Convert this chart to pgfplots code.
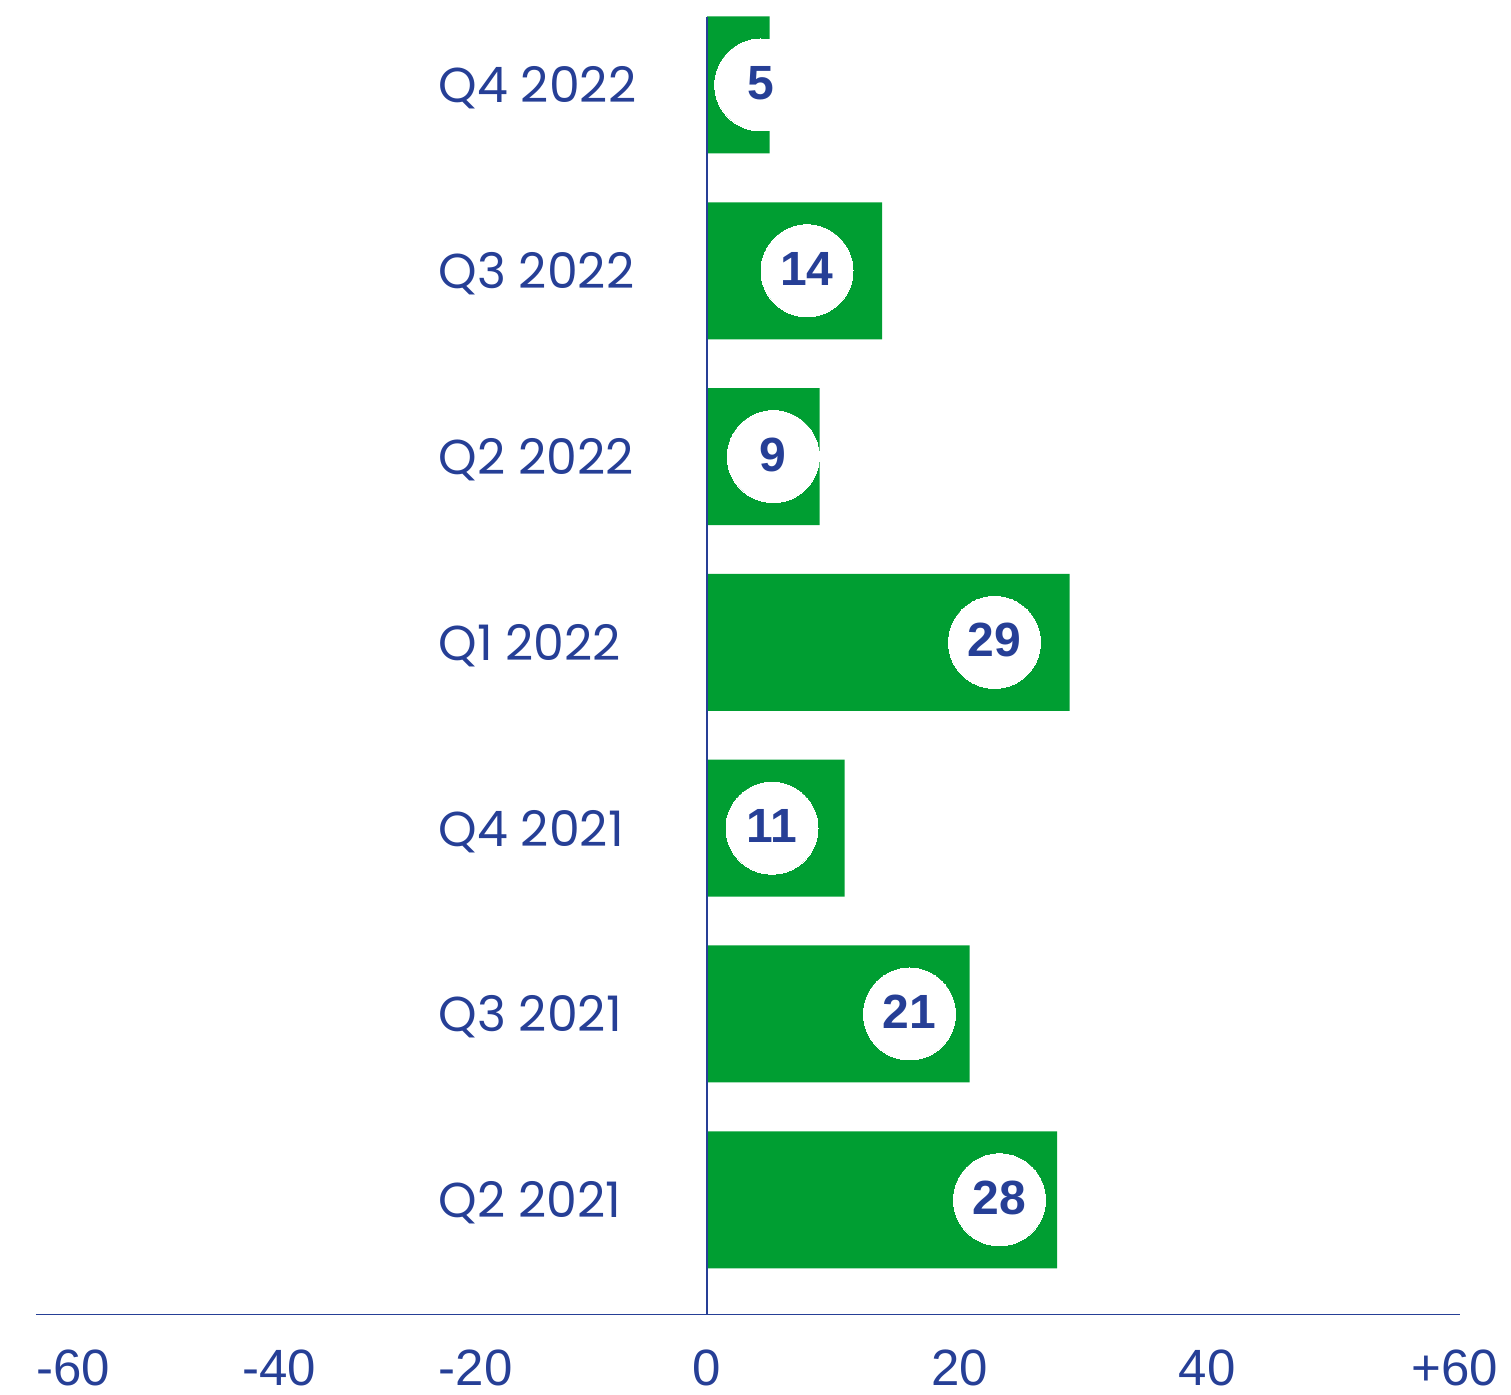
\documentclass[border=0pt]{standalone}
\usepackage{fontspec}
\usepackage{pgfplots}
\usepackage{pgfplotstable}
\pgfplotsset{compat=1.18}
\setmainfont{Liberation Sans}
\newfontfamily\poppins{Poppins}
\definecolor{barg}{RGB}{0,158,50}
\definecolor{navy}{RGB}{38,63,150}

\pgfplotstableread{
pos val cx lab
0 28 23.4 28
1 21 16.2 21
2 11 5.2 11
3 29 23.0 29
4 9 5.3 9
5 14 8.0 14
6 5 4.3 5
}\data

\begin{document}
\begin{tikzpicture}
\begin{axis}[
  scale only axis, width=712pt, height=649pt,
  xmin=-53.68, xmax=60.24, ymin=-0.62, ymax=6.366,
  axis line style={draw=none},
  major tick length=0pt,
  xtick={-50.7,-34.2,-18.5,0,20.2,40,59.8},
  xticklabels={-60,-40,-20,0,20,40,+60},
  xticklabel style={anchor=base, yshift=-35.5pt, inner sep=0pt, font=\fontsize{25.5}{30}\selectfont, text=navy},
  ytick={0,1,2,3,4,5,6},
  yticklabels={Q2 2021,Q3 2021,Q4 2021,Q1 2022,Q2 2022,Q3 2022,Q4 2022},
  yticklabel style={anchor=base west, inner sep=0pt, xshift=201pt, yshift=-9pt, font=\poppins\fontsize{24.5}{30}\selectfont, text=navy},
]
\addplot[xbar, fill=barg, draw=none, bar width=68.5pt] table[x=val, y=pos] {\data};
\addplot[white, only marks, mark=*, mark size=23pt, mark options={fill=white, draw=white, line width=0pt},
  point meta=explicit symbolic, nodes near coords,
  nodes near coords style={anchor=center, yshift=1pt, font=\bfseries\fontsize{24}{26}\selectfont, text=navy}]
  table[x=cx, y=pos, meta=lab] {\data};
\draw[navy, line width=0.75pt] (rel axis cs:0,0) -- (rel axis cs:1,0);
\draw[navy, line width=0.6pt] (axis cs:0,-0.62) -- (axis cs:0,6.366);
\end{axis}
\path ([xshift=-18pt,yshift=-40pt]current axis.south west) rectangle ([xshift=25.5pt,yshift=8.5pt]current axis.north east);
\end{tikzpicture}
\end{document}
